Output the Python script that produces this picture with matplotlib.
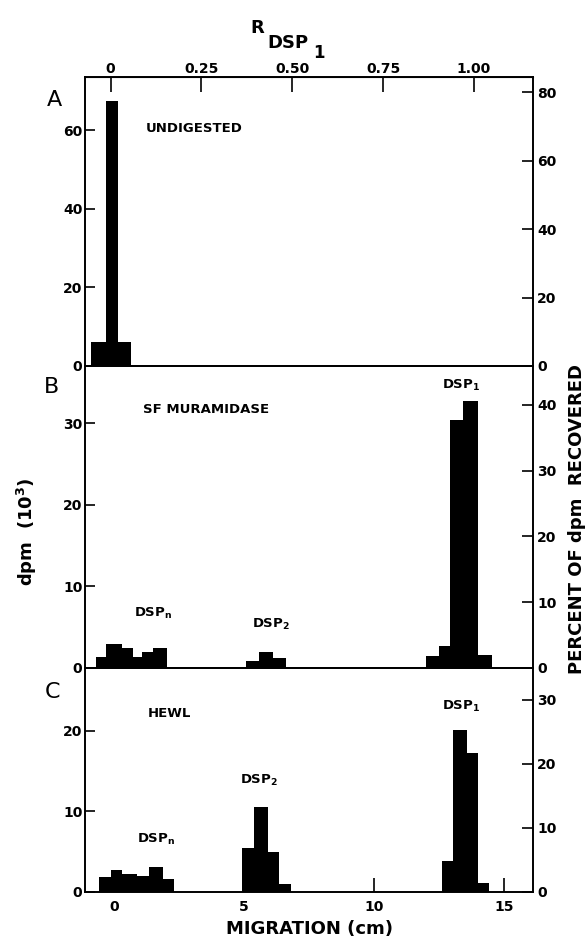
import matplotlib
matplotlib.use("Agg")
import matplotlib.pyplot as plt

plt.rcParams['font.family'] = ['DejaVu Sans']
plt.rcParams['mathtext.default'] = 'regular'

# slice edges (cm) and counts (10^3 dpm) for each panel
a_edges = [-0.88, -0.30, 0.15, 0.65]
a_dpm = [6.2, 67.4, 6.2]

b_n_edges = [-0.68, -0.30, 0.30, 0.75, 1.07, 1.52, 2.06]
b_n_dpm = [1.4, 2.9, 2.5, 1.4, 1.9, 2.5]
b_2_edges = [5.08, 5.56, 6.10, 6.61]
b_2_dpm = [0.8, 1.9, 1.2]
b_1_edges = [12.0, 12.49, 12.91, 13.41, 13.97, 14.52]
b_1_dpm = [1.5, 2.7, 30.4, 32.7, 1.6]

c_n_edges = [-0.56, -0.12, 0.30, 0.88, 1.37, 1.88, 2.32]
c_n_dpm = [1.8, 2.7, 2.2, 2.0, 3.1, 1.65]
c_2_edges = [4.92, 5.37, 5.91, 6.36, 6.81]
c_2_dpm = [5.5, 10.6, 5.0, 0.95]
c_1_edges = [12.62, 13.03, 13.58, 14.0, 14.42]
c_1_dpm = [3.8, 20.1, 17.2, 1.15]

# axis ranges: left dpm (10^3), right percent recovered
a_lim, a_pct = 73.5, 84.4
b_lim, b_pct = 37.05, 45.9
c_lim, c_pct = 27.8, 35.0

a_yticks, a_pticks = [0, 20, 40, 60], [0, 20, 40, 60, 80]
b_yticks, b_pticks = [0, 10, 20, 30], [0, 10, 20, 30, 40]
c_yticks, c_pticks = [0, 10, 20], [0, 10, 20, 30]

mig_ticks = [0, 5, 10, 15]
r_ticks = [0, 0.25, 0.50, 0.75, 1.00]
r_labels = ['0', '0.25', '0.50', '0.75', '1.00']
r_zero, r_span = -0.12, 13.95  # cm at R=0, cm per unit R

fig = plt.figure(figsize=(5.87, 9.47), dpi=100)
gs = fig.add_gridspec(3, 1, left=0.145, right=0.908, top=0.9187, bottom=0.0581,
                      hspace=0, height_ratios=[289, 302, 224])
axes = [fig.add_subplot(gs[i]) for i in range(3)]

panels = [
    (axes[0], [(a_edges, a_dpm)], a_lim, a_pct, a_yticks, a_pticks),
    (axes[1], [(b_n_edges, b_n_dpm), (b_2_edges, b_2_dpm), (b_1_edges, b_1_dpm)],
     b_lim, b_pct, b_yticks, b_pticks),
    (axes[2], [(c_n_edges, c_n_dpm), (c_2_edges, c_2_dpm), (c_1_edges, c_1_dpm)],
     c_lim, c_pct, c_yticks, c_pticks),
]

tick_font = dict(labelsize=10)
for ax, groups, lim, pct, yt, pt in panels:
    for edges, vals in groups:
        ax.stairs(vals, edges, fill=True, color='black', linewidth=0)
    ax.set_xlim(-1.1, 16.1)
    ax.set_ylim(0, lim)
    ax.set_yticks(yt)
    ax.tick_params(axis='y', direction='in', length=7, width=1.2, pad=2, **tick_font)
    ax.tick_params(axis='x', bottom=False, labelbottom=False)
    for s in ax.spines.values():
        s.set_linewidth(1.2)
    for lab in ax.get_yticklabels():
        lab.set_fontweight('bold')
    tw = ax.twinx()
    tw.set_ylim(0, pct)
    tw.set_yticks(pt)
    tw.tick_params(axis='y', direction='in', length=8, width=1.2, pad=3, **tick_font)
    for lab in tw.get_yticklabels():
        lab.set_fontweight('bold')
    for s in tw.spines.values():
        s.set_linewidth(1.2)

# bottom migration axis
axc = axes[2]
axc.set_xticks(mig_ticks)
axc.tick_params(axis='x', bottom=True, labelbottom=True, direction='in',
                length=10, width=1.2, pad=6, labelsize=10)
for lab in axc.get_xticklabels():
    lab.set_fontweight('bold')
axc.set_xlabel('MIGRATION (cm)', fontsize=13, fontweight='bold', labelpad=4)

# top relative mobility axis
top = axes[0].secondary_xaxis('top', functions=(lambda x: (x - r_zero) / r_span,
                                                lambda r: r * r_span + r_zero))
top.set_xticks(r_ticks)
top.set_xticklabels(r_labels)
top.tick_params(direction='in', length=11, width=1.2, pad=1, labelsize=10)
for lab in top.get_xticklabels():
    lab.set_fontweight('bold')

bold = dict(fontsize=9.5, fontweight='bold', va='center', ha='left')
axes[0].text(1.24, 60.5, 'UNDIGESTED', **bold)

axes[1].text(1.12, 31.7, 'SF MURAMIDASE', **bold)
axes[1].text(12.6, 34.7, 'DSP$_{1}$', **bold)
axes[1].text(0.78, 6.7, 'DSP$_{n}$', **bold)
axes[1].text(5.31, 5.4, 'DSP$_{2}$', **bold)

axes[2].text(1.29, 22.1, 'HEWL', **bold)
axes[2].text(12.6, 23.0, 'DSP$_{1}$', **bold)
axes[2].text(4.86, 13.8, 'DSP$_{2}$', **bold)
axes[2].text(0.9, 6.5, 'DSP$_{n}$', **bold)

# panel letters and outer labels
for letter, (px, py) in zip('ABC', [(54, 100), (52, 387), (53, 692)]):
    fig.text(px / 587, 1 - py / 947, letter, fontsize=16, ha='center', va='center')

# R_DSP1 built from three pieces, stepping downwards
fig.text(257 / 587, 1 - 28 / 947, 'R', fontsize=13, fontweight='bold',
         ha='center', va='center')
fig.text(288 / 587, 1 - 43 / 947, 'DSP', fontsize=13, fontweight='bold',
         ha='center', va='center')
fig.text(319 / 587, 1 - 53 / 947, '1', fontsize=12, fontweight='bold',
         ha='center', va='center')

fig.text(27 / 587, 1 - 532 / 947, 'dpm  (10$^{3}$)', rotation=90, fontsize=13,
         fontweight='bold', ha='center', va='center')
fig.text(577 / 587, 1 - 519 / 947, 'PERCENT OF dpm  RECOVERED', rotation=90,
         fontsize=13, fontweight='bold', ha='center', va='center')

fig.savefig('out.png', dpi=100)
